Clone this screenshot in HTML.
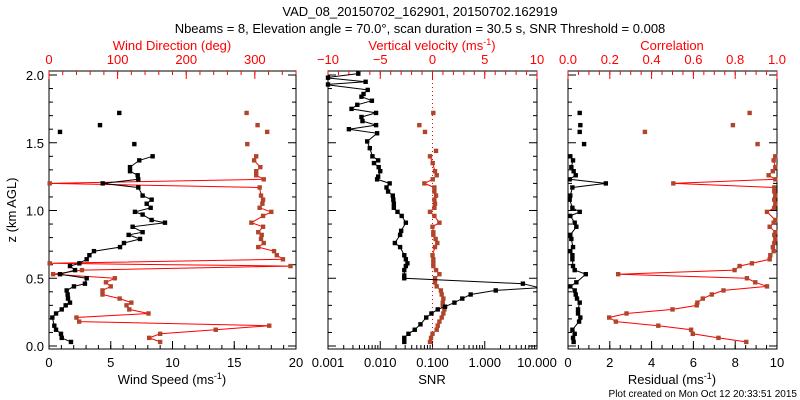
<!DOCTYPE html>
<html><head><meta charset="utf-8"><style>
html,body{margin:0;padding:0;background:#fff;}
svg{display:block;font-family:"Liberation Sans",sans-serif;}
</style></head><body>
<svg id="chart" width="800" height="400" viewBox="0 0 800 400" xmlns="http://www.w3.org/2000/svg">
<text x="420" y="16" text-anchor="middle" font-size="13">VAD_08_20150702_162901, 20150702.162919</text>
<text x="420" y="33" text-anchor="middle" font-size="13">Nbeams = 8, Elevation angle = 70.0°, scan duration = 30.5 s, SNR Threshold = 0.008</text>
<text x="797" y="397" text-anchor="end" font-size="10">Plot created on Mon Oct 12 20:33:51 2015</text>
<g id="plots"></g>
</svg>
<script>
// Panel 1: wind speed (black) and wind direction (brown)
const wsH=[0.03,0.06,0.09,0.12,0.15,0.21,0.24,0.27,0.30,0.32,0.35,0.38,0.41,0.44,0.46,0.50,0.53,0.56,0.59,0.61,0.64,0.67,0.70,0.73,0.76,0.79,0.82,0.84,0.88,0.91,0.93,0.97,0.99,1.02,1.05,1.08,1.11,1.17,1.20,1.23,1.26,1.29,1.32,1.37,1.40,null,1.49,null,1.58,null,1.63,null,1.72];
const wsV=[1.78,1.03,0.97,0.57,0.43,0.27,0.57,1.03,1.35,1.70,1.54,1.51,1.43,2.02,2.91,3.05,0.89,2.11,1.70,2.46,3.05,3.27,3.64,5.75,6.07,7.37,6.45,7.58,6.77,9.39,8.31,7.58,6.96,8.23,7.91,8.31,7.58,7.23,4.35,7.23,7.18,6.56,6.56,7.31,8.39,null,6.91,null,0.89,null,4.13,null,5.69];
const wdH=[0.03,0.06,0.09,0.12,0.15,0.18,0.21,0.24,0.27,0.30,0.32,0.35,0.38,0.41,0.44,0.47,0.50,0.53,0.56,0.59,0.61,0.64,0.67,0.70,0.73,0.76,0.79,0.82,0.84,0.88,0.91,0.96,0.99,1.02,1.05,1.08,1.11,1.17,1.20,1.23,1.26,1.29,1.32,1.37,1.40,null,1.49,null,1.58,null,1.63,null,1.72];
const wdV=[162,146,162,243,321,44,40,145,117,113,120,103,78,78,90,83,96,6,48,352,1,341,332,328,305,313,309,310,305,312,295,312,324,307,311,312,309,307,1,313,302,302,308,299,302,null,289,null,318,null,304,null,288];
// Panel 2: SNR (black, log10) and vertical velocity (brown)
const snrH=[0.03,0.06,0.09,0.12,0.16,0.21,0.24,0.27,0.29,0.32,0.35,0.38,0.41,0.43,0.46,0.50,0.52,0.56,0.59,0.61,0.64,0.67,0.73,0.76,0.82,0.85,0.91,0.96,0.99,1.02,1.05,1.08,1.11,1.14,1.17,1.20,1.23,1.25,1.29,1.32,1.35,1.37,1.40,1.46,1.51,1.57,1.60,1.63,1.66,1.69,1.72,1.75,1.78,1.81,1.84,1.86,1.89,1.93,1.95,1.98,2.01];
const snrV=[-1.54,-1.54,-1.46,-1.34,-1.23,-1.12,-1.02,-0.90,-0.76,-0.58,-0.43,-0.27,0.21,1.05,0.73,-1.54,-1.54,-1.54,-1.51,-1.48,-1.51,-1.54,-1.62,-1.72,-1.62,-1.60,-1.51,-1.59,-1.67,-1.74,-1.74,-1.75,-1.76,-1.85,-1.88,-1.82,-2.06,-2.04,-2.00,-2.03,-2.12,-2.04,-2.15,-2.20,-2.25,-2.06,-2.60,-2.08,-2.34,-2.36,-2.08,-2.55,-2.44,-2.16,-2.36,-2.32,-2.24,-3.05,-2.28,-3.05,-2.42];
const vvH=[0.03,0.06,0.09,0.12,0.15,0.18,0.21,0.24,0.27,0.30,0.32,0.35,0.38,0.41,0.44,0.47,0.50,0.53,0.56,0.59,0.61,0.64,0.67,0.73,0.76,0.79,0.82,0.84,0.88,0.91,0.96,0.99,1.02,1.05,1.08,1.11,1.14,1.17,1.20,1.23,1.26,1.29,1.35,1.40,null,1.44,null,1.58,null,1.63,null,1.72];
const vvV=[-0.24,-0.14,0.0,0.4,0.5,0.66,0.88,1.04,1.14,0.98,0.98,1.04,0.88,0.8,0.4,0.24,0.24,0.66,0.34,0.08,0.08,0.08,0.0,0.24,0.46,0.3,0.08,0.08,0.0,0.66,0.18,-0.24,0.18,0.24,0.18,0.34,0.18,0.18,-0.78,0.02,0.4,0.24,0.02,-0.24,null,0.34,null,-0.72,null,-1.26,null,0.08];
// Panel 3: residual (black) and correlation (brown)
const resH=[0.03,0.06,0.09,0.12,0.18,0.21,0.24,0.27,0.32,0.35,0.38,0.41,0.44,0.47,0.53,0.56,0.59,0.64,0.67,0.70,0.73,0.79,0.82,0.88,0.91,0.96,0.99,1.02,1.08,1.11,1.17,1.20,1.23,1.26,1.29,1.32,1.37,1.40,null,1.49,null,1.58,null,1.63,null,1.72];
const resV=[0.27,0.24,0.32,0.21,0.53,0.59,0.48,0.48,0.56,0.43,0.37,0.32,0.11,0.40,0.85,0.32,0.24,0.21,0.21,0.11,0.24,0.16,0.11,0.40,0.32,0.11,0.56,0.21,0.08,0.11,0.21,1.81,0.08,0.37,0.27,0.16,0.24,0.11,null,0.77,null,0.56,null,0.59,null,0.56];
const corH=[0.03,0.06,0.09,0.12,0.15,0.18,0.21,0.24,0.27,0.30,0.32,0.35,0.38,0.41,0.44,0.47,0.50,0.53,0.56,0.59,0.61,0.64,0.67,0.70,0.73,0.76,0.79,0.82,0.84,0.88,0.91,0.93,0.99,1.02,1.05,1.08,1.11,1.14,1.17,1.20,1.23,1.26,1.29,1.32,1.37,1.40,null,1.49,null,1.58,null,1.63,null,1.72];
const corV=[0.853,0.72,0.597,0.589,0.432,0.229,0.197,0.28,0.50,0.616,0.619,0.645,0.688,0.744,0.952,0.896,0.856,0.24,0.797,0.821,0.88,0.965,0.968,0.984,0.98,0.987,0.992,0.987,0.992,0.965,0.984,0.992,0.952,0.987,0.992,0.987,0.992,0.987,0.987,0.504,0.992,0.96,0.98,0.992,0.984,0.992,null,0.907,null,0.368,null,0.789,null,0.869];
const zTicks=["0.0","0.5","1.0","1.5","2.0"];

const NS="http://www.w3.org/2000/svg";
const G=document.getElementById('plots');
const Y0=346,YS=135.5,TOP=71,BOT=349;
function yS(h){return Y0-h*YS;}
function mk(tag,at,par){const e=document.createElementNS(NS,tag);for(const k in at)e.setAttribute(k,at[k]);(par||G).appendChild(e);return e;}
const BR="#b0452c",RED="#ff0000";
function series(H,V,xS,lc,mc,name,x0,x1){
  const g=mk('g',{});
  
  
  const cid='c'+name;
  const cp=mk('clipPath',{id:cid},g);mk('rect',{x:x0,y:TOP,width:x1-x0,height:BOT-TOP},cp);
  let seg=[];
  const flush=()=>{if(seg.length>1){const p=mk('polyline',{points:seg.join(' '),fill:'none',stroke:lc,'stroke-width':1,'clip-path':'url(#'+cid+')'},g);}seg=[];};
  for(let i=0;i<H.length;i++){
    if(H[i]===null||V[i]===null){flush();continue;}
    seg.push(xS(V[i]).toFixed(1)+','+yS(H[i]).toFixed(1));
  }
  flush();
  for(let i=0;i<H.length;i++){
    if(H[i]===null||V[i]===null)continue;
    const xv=xS(V[i]);
    if(xv>x1+1)continue;
    const x=Math.max(xv,x0);
    const m=mk('rect',{x:x-2.2,y:yS(H[i])-2.2,width:4.4,height:4.4,fill:mc},g);
    
    
  }
}
function frame(x0,x1,name){
  const r=mk('rect',{x:x0,y:TOP,width:x1-x0,height:BOT-TOP,fill:'none',stroke:'#000','stroke-width':1});
  
  
  for(let h=0;h<=2.001;h+=0.1){
    const y=yS(h),maj=Math.abs(h*2-Math.round(h*2))<0.01,L=maj?8:4;
    mk('line',{x1:x0,y1:y,x2:x0+L,y2:y,stroke:'#000'});
    mk('line',{x1:x1,y1:y,x2:x1-L,y2:y,stroke:'#000'});
  }
}
function hTicks(x0,x1,vals,minors,xS,y,dir,col,labels,ly,name){
  minors.forEach(v=>mk('line',{x1:xS(v),y1:y,x2:xS(v),y2:y+dir*4,stroke:col}));
  vals.forEach((v,i)=>{mk('line',{x1:xS(v),y1:y,x2:xS(v),y2:y+dir*8,stroke:col});
    const t=mk('text',{x:xS(v),y:ly,'text-anchor':'middle','font-size':13,fill:col});t.textContent=labels[i];
    
    });
}
function lin(a,b,x0,x1){return v=>x0+(v-a)/(b-a)*(x1-x0);}
function range(a,b,s){const r=[];for(let v=a;v<=b+1e-9;v+=s)r.push(+v.toFixed(4));return r;}
function label(x,y,txt,col,name,size){const t=mk('text',{x:x,y:y,'text-anchor':'middle','font-size':size||13,fill:col});t.innerHTML=txt;
  
  return t;}

// panel 1
const P1=[49,296];frame(P1[0],P1[1],'wind-panel');
const sp=lin(0,20,P1[0],P1[1]),dr=lin(0,360,P1[0],P1[1]);
hTicks(0,0,[0,5,10,15,20],range(0,20,1),sp,BOT,-1,'#000',['0','5','10','15','20'],367,'wind-speed');
hTicks(0,0,[0,100,200,300],range(0,360,20),dr,TOP,1,RED,['0','100','200','300'],64,'wind-direction');
zTicks.forEach((l,i)=>{const t=mk('text',{x:44,y:yS(i*0.5)+5,'text-anchor':'end','font-size':13});t.textContent=l;
  
  });
const yt=label(0,0,'z (km AGL)','#000','y-axis-title');yt.setAttribute('transform','translate(16,210) rotate(-90)');
label(172,384,'Wind Speed (ms<tspan dy="-5" font-size="9">-1</tspan><tspan dy="5">)</tspan>','#000','x-axis-title-wind-speed');
label(172,50,'Wind Direction (deg)',RED,'x-axis-title-wind-direction');
series(wdH,wdV,dr,RED,BR,'wind-direction-series',P1[0],P1[1]);
series(wsH,wsV,sp,'#000','#000','wind-speed-series',P1[0],P1[1]);

// panel 2
const P2=[328,537];frame(P2[0],P2[1],'snr-panel');
const lg=lin(-3,1,P2[0],P2[1]),vv=lin(-10,10,P2[0],P2[1]);
const logMin=[];for(let d=-3;d<1;d++)for(let k=2;k<10;k++)logMin.push(d+Math.log10(k));
hTicks(0,0,[-3,-2,-1,0,1],logMin,lg,BOT,-1,'#000',['0.001','0.010','0.100','1.000','10.000'],367,'snr');
hTicks(0,0,[-10,-5,0,5,10],range(-10,10,1),vv,TOP,1,RED,['\u221210','\u22125','0','5','10'],64,'vertical-velocity');
label(432,384,'SNR','#000','x-axis-title-snr');
label(432,50,'Vertical velocity (ms<tspan dy="-5" font-size="9">-1</tspan><tspan dy="5">)</tspan>',RED,'x-axis-title-vertical-velocity');
const zl=mk('line',{x1:vv(0),y1:TOP,x2:vv(0),y2:BOT,stroke:RED,'stroke-dasharray':'1,3'});


series(vvH,vvV,vv,RED,BR,'vertical-velocity-series',P2[0],P2[1]);
series(snrH,snrV,lg,'#000','#000','snr-series',P2[0],P2[1]);

// panel 3
const P3=[568,777];frame(P3[0],P3[1],'residual-panel');
const rs=lin(0,10,P3[0],P3[1]),cr=lin(0,1,P3[0],P3[1]);
hTicks(0,0,[0,2,4,6,8,10],range(0,10,0.5),rs,BOT,-1,'#000',['0','2','4','6','8','10'],367,'residual');
hTicks(0,0,[0,0.2,0.4,0.6,0.8,1.0],range(0,1,0.05),cr,TOP,1,RED,['0.0','0.2','0.4','0.6','0.8','1.0'],64,'correlation');
label(672,384,'Residual (ms<tspan dy="-5" font-size="9">-1</tspan><tspan dy="5">)</tspan>','#000','x-axis-title-residual');
label(672,50,'Correlation',RED,'x-axis-title-correlation');
series(corH,corV,cr,RED,BR,'correlation-series',P3[0],P3[1]);
series(resH,resV,rs,'#000','#000','residual-series',P3[0],P3[1]);
</script>
</body></html>
